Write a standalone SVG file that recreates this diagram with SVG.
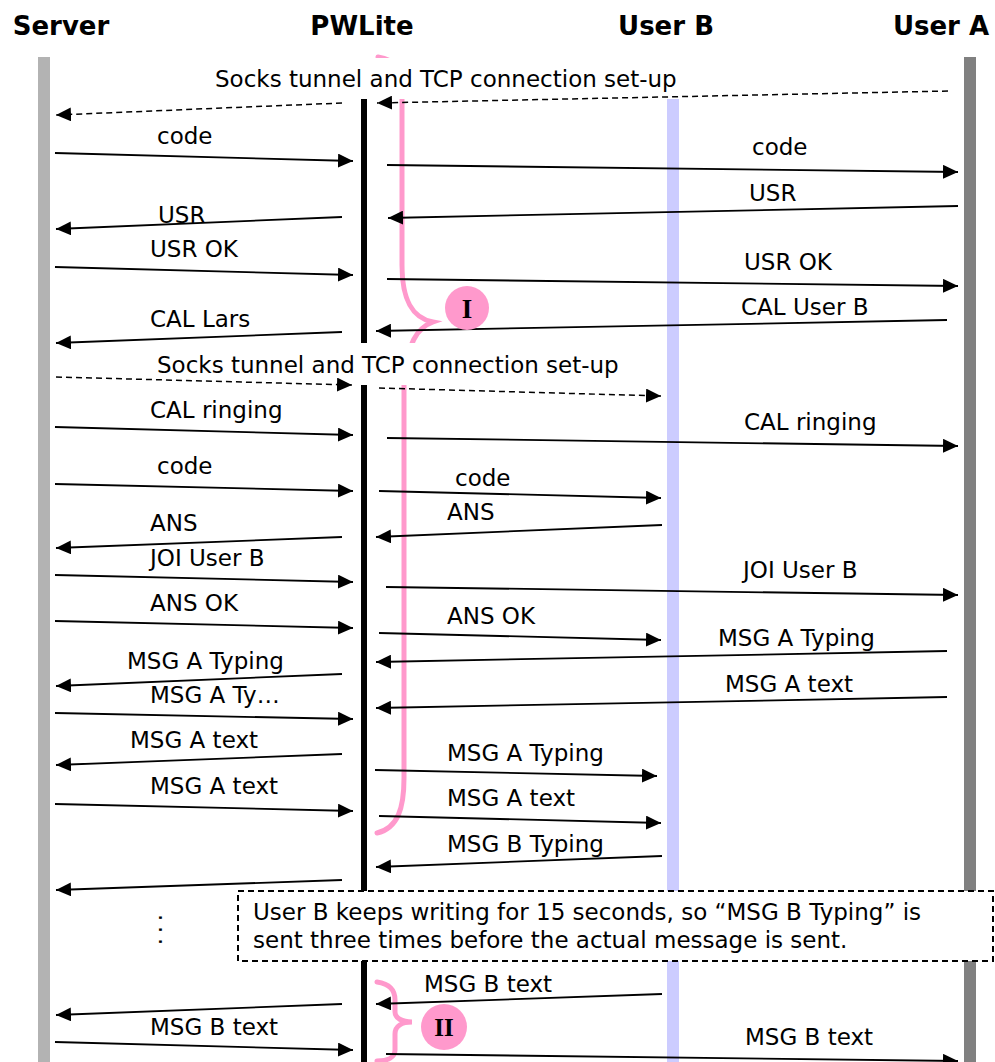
<svg xmlns="http://www.w3.org/2000/svg" width="995" height="1062" viewBox="0 0 995 1062">
  <style>
    .hdr{font-family:"DejaVu Sans",Verdana,sans-serif;font-weight:bold;font-size:26px;text-anchor:middle;fill:#000}
    .lbl{font-family:"DejaVu Sans",Verdana,sans-serif;font-size:23px;fill:#000}
    .msg{stroke:#000;stroke-width:1.8;fill:none;marker-end:url(#ah)}
    .dash{stroke-dasharray:6 4;stroke-width:1.5}
    .brace{stroke:#ff99cc;stroke-width:5;fill:none;stroke-linecap:round}
    .badge{fill:#ff99cc}
    .badgetxt{font-family:"Liberation Serif","Times New Roman",serif;font-weight:bold;text-anchor:middle;fill:#000}
    .lblbg{fill:#fff}
    .note{fill:#fff;stroke:#000;stroke-width:2;stroke-dasharray:6 4}
  </style>
  <defs>
    <marker id="ah" markerUnits="userSpaceOnUse" markerWidth="16" markerHeight="14" refX="15" refY="7" orient="auto">
      <path d="M0,0 L15,7 L0,14 z" fill="#000"/>
    </marker>
  </defs>

  <!-- lifelines -->
  <g id="server">
    <text class="hdr" x="61" y="35">Server</text>
    <rect x="38" y="57" width="12" height="1005" fill="#b3b3b3"/>
  </g>
  <g id="pwlite">
    <text class="hdr" x="362" y="35">PWLite</text>
    <rect x="361" y="99" width="6" height="244" fill="#000"/>
    <rect x="361" y="385" width="6" height="677" fill="#000"/>
  </g>
  <g id="user-b">
    <text class="hdr" x="666" y="35">User B</text>
    <rect x="667" y="99" width="12" height="963" fill="#ccccff"/>
  </g>
  <g id="user-a">
    <text class="hdr" x="941" y="35">User A</text>
    <rect x="964" y="57" width="12" height="1005" fill="#808080"/>
  </g>

  <!-- phase braces -->
  <g id="phase-1">
    <path class="brace" d="M378,57 C395,60 402,68 402,88 L402,265 C402,300 412,318 433,322 C416,328 408,345 405,375 L404,385 L404,778 C404,808 398,828 377,833"/>
  </g>
  <g id="phase-2">
    <path class="brace" stroke-width="4" d="M377,982 C390,984 395,990 395,1000 L395,1012 C395,1018 402,1022 412,1022 C402,1022 395,1026 395,1034 L395,1050 C395,1057 388,1061 377,1061"/>
  </g>

  <!-- backgrounds behind set-up labels -->
  <rect class="lblbg" x="200" y="58" width="500" height="41"/>
  <rect class="lblbg" x="150" y="343" width="500" height="42"/>

  <!-- messages -->
  <g id="connectors">
    <line class="msg dash" x1="948" y1="91" x2="377" y2="103"/>
    <line class="msg dash" x1="342" y1="103" x2="56" y2="115"/>
    <line class="msg" x1="55" y1="153" x2="353" y2="161"/>
    <line class="msg" x1="387" y1="165" x2="958" y2="172"/>
    <line class="msg" x1="958" y1="206" x2="388" y2="218"/>
    <line class="msg" x1="342" y1="217" x2="56" y2="229"/>
    <line class="msg" x1="55" y1="267" x2="353" y2="275"/>
    <line class="msg" x1="387" y1="279" x2="958" y2="286"/>
    <line class="msg" x1="947" y1="320" x2="376" y2="331"/>
    <line class="msg" x1="342" y1="332" x2="56" y2="343"/>
    <line class="msg dash" x1="56" y1="377" x2="352" y2="385"/>
    <line class="msg dash" x1="379" y1="388" x2="661" y2="396"/>
    <line class="msg" x1="55" y1="427" x2="353" y2="435"/>
    <line class="msg" x1="387" y1="438" x2="958" y2="446"/>
    <line class="msg" x1="55" y1="484" x2="353" y2="491"/>
    <line class="msg" x1="379" y1="491" x2="661" y2="498"/>
    <line class="msg" x1="662" y1="525" x2="376" y2="537"/>
    <line class="msg" x1="342" y1="537" x2="56" y2="548"/>
    <line class="msg" x1="55" y1="575" x2="353" y2="582"/>
    <line class="msg" x1="386" y1="587" x2="958" y2="595"/>
    <line class="msg" x1="55" y1="621" x2="353" y2="628"/>
    <line class="msg" x1="379" y1="633" x2="661" y2="640"/>
    <line class="msg" x1="947" y1="651" x2="376" y2="662"/>
    <line class="msg" x1="342" y1="674" x2="56" y2="686"/>
    <line class="msg" x1="947" y1="697" x2="376" y2="708"/>
    <line class="msg" x1="55" y1="713" x2="353" y2="719"/>
    <line class="msg" x1="342" y1="754" x2="56" y2="765"/>
    <line class="msg" x1="375" y1="770" x2="657" y2="776"/>
    <line class="msg" x1="55" y1="804" x2="353" y2="811"/>
    <line class="msg" x1="379" y1="816" x2="661" y2="823"/>
    <line class="msg" x1="662" y1="856" x2="376" y2="867"/>
    <line class="msg" x1="342" y1="880" x2="56" y2="890"/>
    <line class="msg" x1="662" y1="994" x2="376" y2="1004"/>
    <line class="msg" x1="342" y1="1004" x2="56" y2="1015"/>
    <line class="msg" x1="55" y1="1042" x2="353" y2="1050"/>
    <line class="msg" x1="386" y1="1054" x2="958" y2="1061"/>
  </g>

  <!-- message labels -->
  <g id="labels" class="lbl">
    <text x="215" y="87">Socks tunnel and TCP connection set-up</text>
    <text x="157" y="144">code</text>
    <text x="752" y="155">code</text>
    <text x="749" y="201">USR</text>
    <text x="158" y="223">USR</text>
    <text x="150" y="257">USR OK</text>
    <text x="744" y="270">USR OK</text>
    <text x="741" y="315">CAL User B</text>
    <text x="150" y="327">CAL Lars</text>
    <text x="157" y="373">Socks tunnel and TCP connection set-up</text>
    <text x="150" y="418">CAL ringing</text>
    <text x="744" y="430">CAL ringing</text>
    <text x="157" y="474">code</text>
    <text x="455" y="486">code</text>
    <text x="447" y="520">ANS</text>
    <text x="150" y="531">ANS</text>
    <text x="150" y="566">JOI User B</text>
    <text x="743" y="578">JOI User B</text>
    <text x="150" y="611">ANS OK</text>
    <text x="447" y="624">ANS OK</text>
    <text x="718" y="646">MSG A Typing</text>
    <text x="127" y="669">MSG A Typing</text>
    <text x="725" y="692">MSG A text</text>
    <text x="150" y="703">MSG A Ty…</text>
    <text x="130" y="748">MSG A text</text>
    <text x="447" y="761">MSG A Typing</text>
    <text x="150" y="794">MSG A text</text>
    <text x="447" y="806">MSG A text</text>
    <text x="447" y="852">MSG B Typing</text>
    <text x="424" y="992">MSG B text</text>
    <text x="150" y="1035">MSG B text</text>
    <text x="745" y="1045">MSG B text</text>
    <!-- vertical ellipsis: three periods turned downwards -->
    <text x="0" y="0" transform="translate(159,914) rotate(90)" letter-spacing="4.7">...</text>
  </g>

  <!-- note -->
  <g id="note">
    <rect class="note" x="238" y="891" width="755" height="70"/>
    <text class="lbl" x="253" y="920">User B keeps writing for 15 seconds, so “MSG B Typing” is</text>
    <text class="lbl" x="253" y="948">sent three times before the actual message is sent.</text>
  </g>

  <!-- phase badges -->
  <g id="badge-1">
    <circle class="badge" cx="467" cy="308" r="22"/>
    <text class="badgetxt" x="467" y="318" font-size="27">I</text>
  </g>
  <g id="badge-2">
    <circle class="badge" cx="444" cy="1027" r="23"/>
    <text class="badgetxt" x="444" y="1036" font-size="25">II</text>
  </g>
</svg>
